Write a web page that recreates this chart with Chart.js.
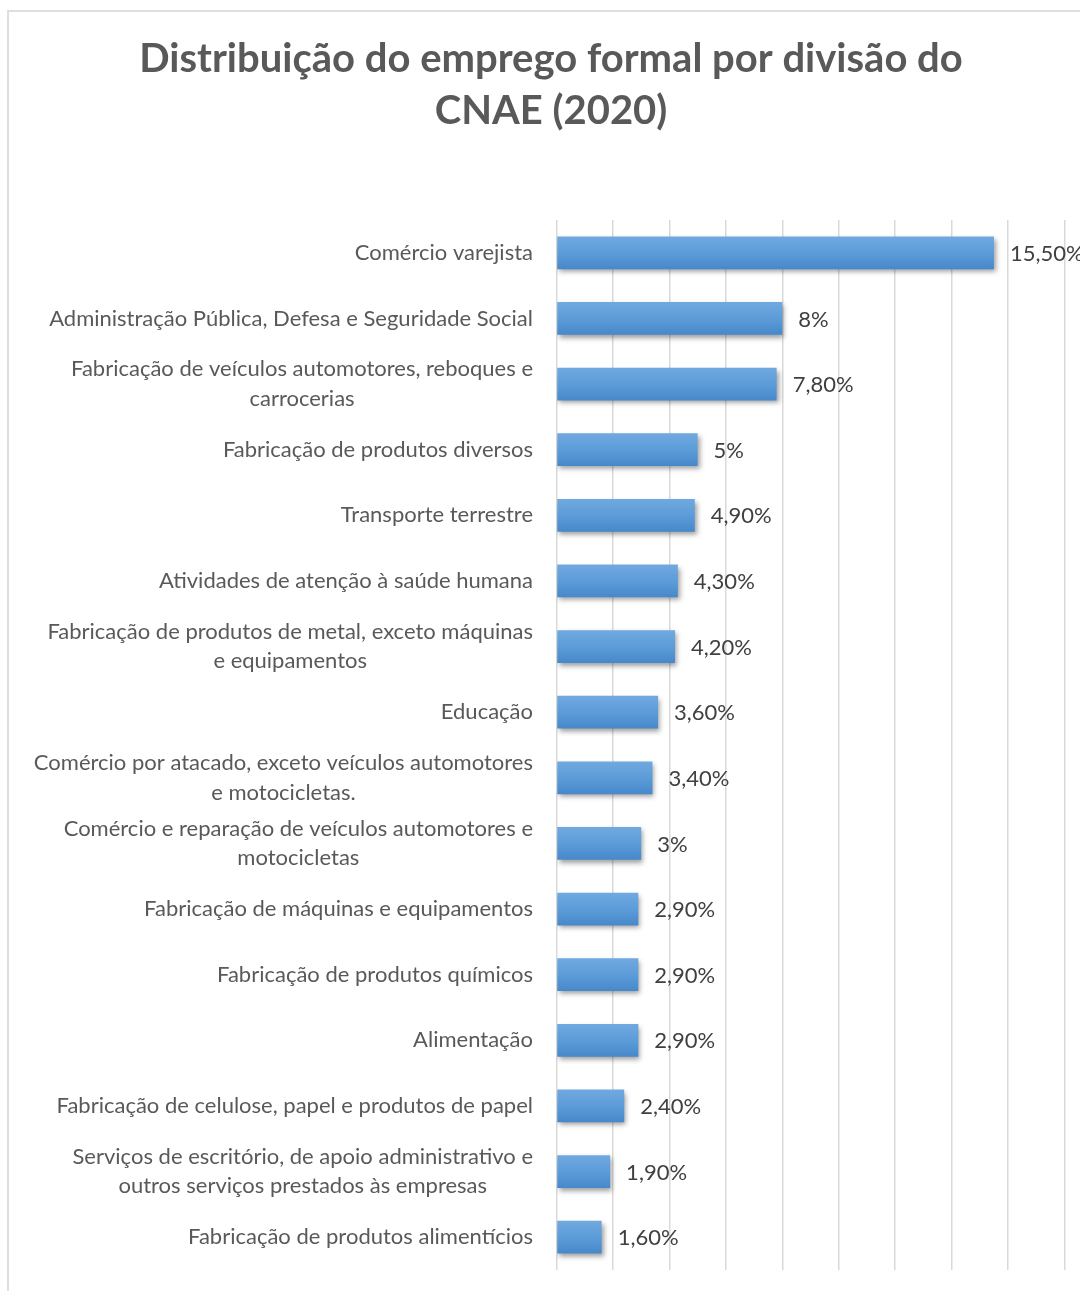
<!DOCTYPE html>
<html><head><meta charset="utf-8">
<script src="https://cdn.jsdelivr.net/npm/chart.js@4.4.1/dist/chart.umd.min.js"></script>
<style>
html,body{margin:0;padding:0;background:#fff;overflow:hidden;width:1080px;height:1291px;}
#frame{position:absolute;left:7px;top:10px;width:1090px;height:1320px;border:2px solid #dedede;box-sizing:border-box;}
#c{position:absolute;left:8px;top:10px;}
</style></head><body>
<div id="frame"></div>
<canvas id="c" width="1086" height="1300"></canvas>
<script>
const titleLines = ["Distribuição do emprego formal por divisão do", "CNAE (2020)"];
const categories = [
  "Comércio varejista",
  "Administração Pública, Defesa e Seguridade Social",
  ["Fabricação de veículos automotores, reboques e", "carrocerias"],
  "Fabricação de produtos diversos",
  "Transporte terrestre",
  "Atividades de atenção à saúde humana",
  ["Fabricação de produtos de metal, exceto máquinas", "e equipamentos"],
  "Educação",
  ["Comércio por atacado, exceto veículos automotores", "e motocicletas."],
  ["Comércio e reparação de veículos automotores e", "motocicletas"],
  "Fabricação de máquinas e equipamentos",
  "Fabricação de produtos químicos",
  "Alimentação",
  "Fabricação de celulose, papel e produtos de papel",
  ["Serviços de escritório, de apoio administrativo e", "outros serviços prestados às empresas"],
  "Fabricação de produtos alimentícios"
];
const values = [15.5, 8, 7.8, 5, 4.9, 4.3, 4.2, 3.6, 3.4, 3, 2.9, 2.9, 2.9, 2.4, 1.9, 1.6];
const valueLabels = ["15,50%", "8%", "7,80%", "5%", "4,90%", "4,30%", "4,20%", "3,60%", "3,40%", "3%", "2,90%", "2,90%", "2,90%", "2,40%", "1,90%", "1,60%"];
const axisMin = 0, axisMax = 18, axisStep = 2;

const LABEL_FONT = "22px Lato";
const BAR_PCT = 0.5;

function barGradient(ctx) {
  const chart = ctx.chart;
  if (!chart.chartArea || ctx.type !== 'data') return '#5b9bd5';
  const ys = chart.scales.y;
  const y = ys.getPixelForValue(ctx.dataIndex);
  const h = ys.height / categories.length * BAR_PCT / 2;
  const g = chart.ctx.createLinearGradient(0, y - h, 0, y + h);
  g.addColorStop(0, '#71a9e0');
  g.addColorStop(0.5, '#5c9cd8');
  g.addColorStop(1, '#4788cb');
  return g;
}

const shadowPlugin = {
  id: 'barShadow',
  beforeDatasetDraw(chart) {
    const c = chart.ctx; c.save();
    c.shadowColor = 'rgba(0,0,0,0.38)';
    c.shadowBlur = 5; c.shadowOffsetX = 2; c.shadowOffsetY = 3;
  },
  afterDatasetDraw(chart) { chart.ctx.restore(); }
};

const valueLabelPlugin = {
  id: 'valueLabels',
  afterDatasetsDraw(chart) {
    const c = chart.ctx;
    const meta = chart.getDatasetMeta(0);
    c.save();
    c.font = LABEL_FONT; c.fillStyle = '#404040';
    c.textAlign = 'left'; c.textBaseline = 'middle';
    meta.data.forEach((el, i) => c.fillText(valueLabels[i], el.x + 16, el.y + 1));
    c.restore();
  }
};

const catLabelPlugin = {
  id: 'catLabels',
  afterDraw(chart) {
    const c = chart.ctx, ys = chart.scales.y;
    const right = chart.chartArea.left - 23.5;
    const lh = 29.5;
    c.save();
    c.font = LABEL_FONT; c.fillStyle = '#595959';
    c.textAlign = 'center'; c.textBaseline = 'middle';
    ys.ticks.forEach((t, i) => {
      const lab = categories[i];
      const lines = Array.isArray(lab) ? lab : [lab];
      const w = Math.max(...lines.map(s => c.measureText(s).width));
      const cx = right - w / 2;
      const yc = ys.getPixelForTick(i);
      const y0 = yc - (lines.length - 1) * lh / 2;
      lines.forEach((s, k) => c.fillText(s, cx, y0 + k * lh));
    });
    c.restore();
  }
};

new Chart(document.getElementById('c'), {
  type: 'bar',
  data: {
    labels: categories,
    datasets: [{
      data: values,
      backgroundColor: barGradient,
      borderWidth: 0,
      barPercentage: BAR_PCT,
      categoryPercentage: 1.0
    }]
  },
  options: {
    indexAxis: 'y',
    responsive: false,
    animation: false,
    events: [],
    layout: { padding: { left: 29.5, right: 29.5, top: 0, bottom: 40 } },
    plugins: {
      legend: { display: false },
      tooltip: { enabled: false },
      title: {
        display: true,
        text: titleLines,
        color: '#595959',
        font: { family: 'Lato', weight: 'bold', size: 40, lineHeight: 1.3 },
        padding: { top: 23, bottom: 83 }
      }
    },
    scales: {
      x: {
        min: axisMin, max: axisMax,
        ticks: { stepSize: axisStep, display: false },
        grid: { color: '#d9d9d9', lineWidth: 1.5, drawTicks: false },
        border: { display: false }
      },
      y: {
        ticks: { display: false },
        grid: { display: false },
        border: { display: false },
        afterFit(scale) { scale.width = 519; }
      }
    }
  },
  plugins: [shadowPlugin, valueLabelPlugin, catLabelPlugin]
});
</script>
</body></html>
